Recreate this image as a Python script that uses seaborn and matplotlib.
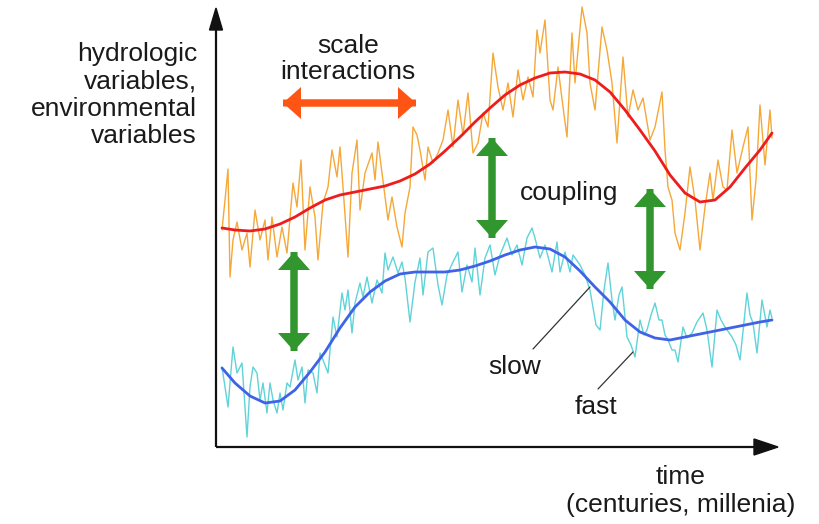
import matplotlib
matplotlib.use("Agg")
import matplotlib.pyplot as plt
import seaborn as sns

# time positions and values (value axis points down, image rows)
slow_time = [222, 235, 250, 265, 280, 295, 310, 325, 340, 355, 370, 385, 400, 415, 430,
             445, 460, 475, 490, 505, 520, 535, 550, 565, 580, 595, 610, 625, 640, 655,
             670, 685, 700, 715, 730, 745, 760, 772]
slow_env = [228, 230, 231, 229, 224, 217, 208, 200, 195, 192, 189, 186, 181, 174, 164,
            151, 137, 122, 108, 95, 85, 78, 73, 72, 74, 80, 92, 110, 130, 151,
            175, 193, 202, 200, 187, 168, 150, 133]
slow_hydro = [368, 383, 396, 403, 401, 390, 372, 352, 328, 307, 292, 281, 274, 272, 272,
              272, 270, 266, 261, 255, 250, 247, 249, 257, 271, 287, 302, 320, 332, 338,
              340, 337, 334, 331, 328, 325, 322, 320]

fast_env_time = [222, 225, 228, 230, 233, 237, 242, 247, 250, 255, 260, 265, 268, 272, 277,
                 282, 287, 293, 297, 301, 305, 310, 315, 318, 323, 328, 332, 337, 340, 343,
                 348, 352, 357, 360, 365, 372, 375, 378, 382, 388, 392, 397, 402, 405, 410,
                 413, 417, 420, 425, 428, 433, 438, 443, 448, 453, 458, 463, 468, 473, 478,
                 483, 488, 493, 498, 503, 508, 513, 518, 523, 528, 533, 537, 540, 545, 550,
                 553, 558, 563, 567, 572, 575, 582, 587, 590, 595, 602, 607, 612, 617, 623,
                 628, 633, 638, 643, 650, 655, 662, 665, 668, 672, 675, 680, 685, 690, 695,
                 700, 705, 710, 713, 718, 723, 727, 732, 737, 743, 748, 752, 756, 760, 765,
                 770, 772]
fast_env = [230, 200, 169, 277, 240, 222, 250, 233, 267, 210, 240, 220, 260, 217, 257,
            227, 253, 183, 207, 160, 250, 187, 217, 260, 203, 187, 150, 177, 147, 187,
            257, 173, 140, 210, 173, 153, 180, 142, 173, 220, 197, 227, 247, 213, 187,
            127, 135, 150, 180, 147, 163, 153, 140, 110, 147, 100, 135, 93, 153, 143,
            113, 127, 53, 87, 110, 83, 117, 70, 100, 77, 97, 30, 53, 20, 100,
            110, 67, 107, 137, 33, 83, 7, 33, 83, 110, 27, 50, 83, 143, 57,
            117, 90, 110, 98, 140, 127, 92, 150, 187, 200, 233, 250, 213, 167, 200,
            250, 207, 173, 200, 160, 187, 190, 130, 173, 147, 127, 220, 180, 105, 165,
            110, 138]

fast_hydro_time = [222, 228, 233, 237, 242, 247, 250, 253, 257, 260, 263, 267, 270, 273, 277,
                   280, 283, 287, 290, 295, 298, 302, 305, 308, 313, 317, 320, 323, 328, 333,
                   337, 342, 345, 348, 352, 355, 360, 363, 367, 372, 377, 382, 385, 388, 393,
                   398, 402, 405, 410, 415, 420, 423, 428, 433, 438, 442, 447, 453, 458, 462,
                   467, 472, 475, 480, 485, 490, 495, 500, 507, 512, 517, 522, 527, 532, 535,
                   540, 545, 552, 557, 560, 565, 570, 573, 580, 585, 590, 596, 600, 604, 608,
                   612, 615, 619, 622, 627, 631, 635, 640, 644, 647, 651, 655, 659, 662, 665,
                   668, 672, 675, 678, 683, 687, 692, 697, 703, 707, 712, 717, 721, 725, 732,
                   736, 740, 747, 750, 753, 757, 762, 767, 770, 772]
fast_hydro = [367, 407, 347, 373, 363, 437, 387, 367, 373, 400, 383, 413, 383, 400, 413,
              393, 410, 383, 387, 360, 380, 367, 403, 370, 373, 393, 353, 360, 373, 317,
              337, 293, 310, 290, 333, 303, 283, 297, 277, 303, 280, 293, 253, 270, 257,
              273, 262, 278, 322, 282, 258, 295, 252, 248, 285, 305, 275, 262, 252, 292,
              265, 282, 248, 295, 258, 245, 275, 255, 238, 255, 245, 265, 238, 228, 238,
              258, 245, 272, 242, 272, 252, 272, 255, 265, 275, 290, 325, 330, 290, 263,
              300, 320, 295, 287, 337, 345, 357, 320, 335, 330, 315, 303, 320, 320, 335,
              340, 350, 350, 362, 327, 338, 333, 322, 313, 330, 367, 310, 320, 327, 337,
              345, 360, 293, 315, 323, 353, 300, 327, 310, 318]

sns.set_theme(style="white")
plt.rcParams['font.family'] = ['Liberation Sans', 'DejaVu Sans']

fig = plt.figure(figsize=(8.2, 5.24), dpi=100)
ax = fig.add_axes([0, 0, 1, 1])

# noisy (fast) series first, smooth (slow) on top
sns.lineplot(x=fast_env_time, y=fast_env, ax=ax, color='#f5a838', linewidth=1.0, estimator=None)
sns.lineplot(x=fast_hydro_time, y=fast_hydro, ax=ax, color='#5fd3d8', linewidth=1.0, estimator=None)
sns.lineplot(x=slow_time, y=slow_env, ax=ax, color='#ee1c1c', linewidth=2.0, estimator=None)
sns.lineplot(x=slow_time, y=slow_hydro, ax=ax, color='#3f62e6', linewidth=2.0, estimator=None)

ax.set_xlim(0, 820)
ax.set_ylim(524, 0)
ax.axis('off')

# axes drawn as arrows
ax.plot([216, 216], [447, 28], color='#111111', lw=1.6, solid_capstyle='butt')
ax.arrow(216, 30, 0, -22, width=0.5, head_width=13, head_length=22,
         length_includes_head=True, color='#111111')
ax.plot([216, 758], [447, 447], color='#111111', lw=1.6, solid_capstyle='butt')
ax.arrow(756, 447, 22, 0, width=0.5, head_width=16, head_length=24,
         length_includes_head=True, color='#111111')


def double_arrow(x0, y0, x1, y1, color):
    # two full-length arrows in opposite directions share one shaft
    for (sx, sy), (ex, ey) in [((x0, y0), (x1, y1)), ((x1, y1), (x0, y0))]:
        ax.arrow(sx, sy, ex - sx, ey - sy, width=7, head_width=32, head_length=18,
                 length_includes_head=True, color=color, linewidth=0)


double_arrow(283, 103, 416, 103, '#ff5514')
green = '#32962f'
double_arrow(294, 252, 294, 351, green)
double_arrow(492, 138, 492, 238, green)
double_arrow(650, 189, 650, 289, green)

# leader lines
ax.plot([533, 590], [349, 287], color='#333333', lw=0.9)
ax.plot([598, 633], [389, 352], color='#333333', lw=0.9)

txt = dict(color='#1a1a1a', fontsize=19)
ax.text(197, 95, "hydrologic\nvariables,\nenvironmental\nvariables", ha='right', va='center',
        multialignment='right', linespacing=1.17, **txt)
ax.text(348, 59, "scale\ninteractions", ha='center', va='center', linespacing=1.12, **txt)
ax.text(569, 193, "coupling", ha='center', va='center', **txt)
ax.text(515, 367, "slow", ha='center', va='center', **txt)
ax.text(596, 407, "fast", ha='center', va='center', **txt)
ax.text(681, 491, "time\n(centuries, millenia)", ha='center', va='center', linespacing=1.25, **txt)

plt.savefig('out.png', dpi=100)
plt.close()
